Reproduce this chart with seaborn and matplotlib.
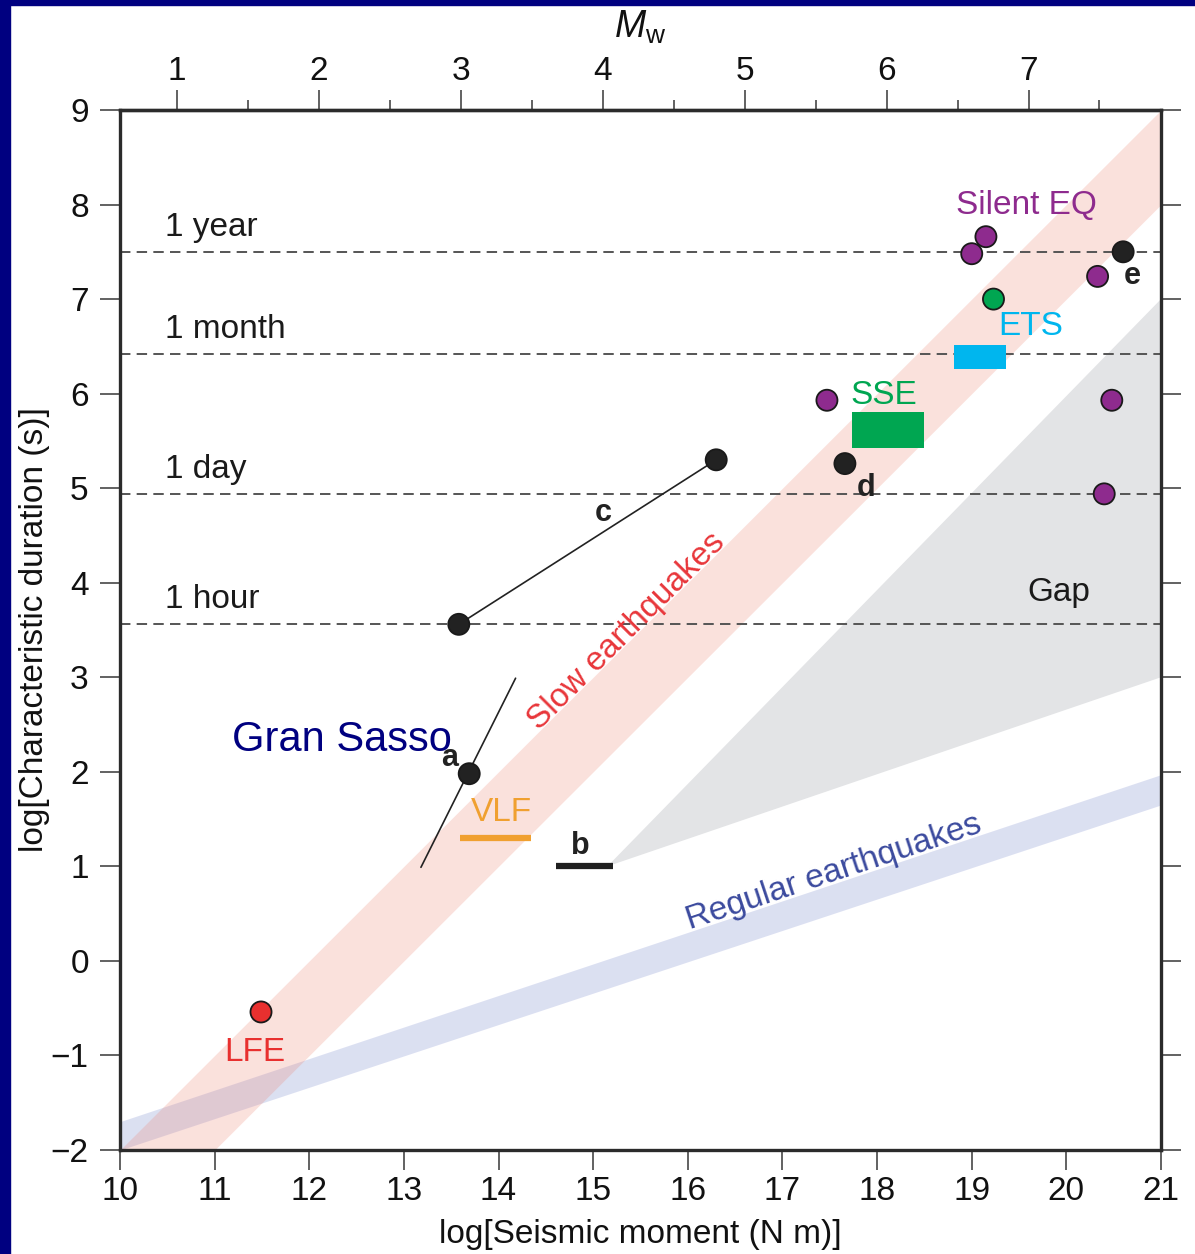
import numpy as np
import pandas as pd
import matplotlib
matplotlib.use("Agg")
import matplotlib.pyplot as plt
from matplotlib.patches import Rectangle
import seaborn as sns

# ---- data -------------------------------------------------------------
# scaling-law bands (log seismic moment -> log duration), given by their end points
band_x = [10, 21]
slow_upper = [-2.0, 9.0]
slow_lower = [-3.0, 8.0]
regular_upper = [-1.7, 1.97]
regular_lower = [-2.0, 1.65]

# gap region between the two scaling laws
gap_x = [15.15, 21.0, 21.0]
gap_y = [1.0, 7.0, 3.0]

# reference durations (log seconds)
duration_names = ["1 year", "1 month", "1 day", "1 hour"]
duration_logs = [7.50, 6.42, 4.94, 3.56]

# individual events
event_kind = ["LFE", "a", "c", "c", "d", "e",
              "Silent", "Silent", "Silent", "Silent", "Silent", "Silent",
              "SSE_pt"]
event_m0 = [11.49, 13.69, 13.58, 16.30, 17.66, 20.60,
            19.00, 19.15, 20.33, 17.47, 20.48, 20.40,
            19.23]
event_dur = [-0.54, 1.98, 3.56, 5.30, 5.26, 7.50,
             7.48, 7.66, 7.24, 5.93, 5.93, 4.94,
             7.00]

# scaling trends of individual sequences
trend_a_m0 = [13.18, 14.18]
trend_a_dur = [0.99, 2.99]
trend_c_m0 = [13.58, 16.30]
trend_c_dur = [3.56, 5.30]

# range bars
vlf_m0 = [13.59, 14.34]
vlf_dur = [1.30, 1.30]
b_m0 = [14.61, 15.21]
b_dur = [1.00, 1.00]

# boxes (m0 min, m0 max, dur min, dur max)
sse_box = [17.74, 18.50, 5.43, 5.81]
ets_box = [18.81, 19.36, 6.26, 6.51]

# top axis: moment magnitude
mw_major = [1, 2, 3, 4, 5, 6, 7]
mw_minor = [1.5, 2.5, 3.5, 4.5, 5.5, 6.5, 7.5]

x_ticks = list(range(10, 22))
y_ticks = list(range(-2, 10))

# ---- style ------------------------------------------------------------
sns.set_theme(style="ticks")
plt.rcParams["font.family"] = ["Liberation Sans", "DejaVu Sans"]
plt.rcParams["mathtext.fontset"] = "custom"
plt.rcParams["mathtext.it"] = "Liberation Sans:italic"
plt.rcParams["mathtext.rm"] = "Liberation Sans"
plt.rcParams["lines.scale_dashes"] = False

FS = 24
SPINE = "#2b2b2b"
TICKC = "#555555"
TXT = "#111111"

fig = plt.figure(figsize=(11.95, 12.54), dpi=100)
ax = fig.add_axes([120 / 1195, 1 - 1150 / 1254, (1161 - 120) / 1195, (1150 - 110) / 1254])

# bands
ax.fill_between(band_x, regular_lower, regular_upper, color="#8090D0", alpha=0.28,
                linewidth=0, zorder=1)
ax.fill_between(band_x, slow_lower, slow_upper, color="#EE8877", alpha=0.25,
                linewidth=0, zorder=1)
ax.fill(gap_x, gap_y, color="#E3E4E6", linewidth=0, zorder=0.9)

# duration reference lines
for name, val in zip(duration_names, duration_logs):
    ax.axhline(val, color="#555555", lw=1.4, dashes=(7.5, 4.5), zorder=2)
    ax.text(10.48, val + 0.17, name, fontsize=FS, color="#1a1a1a",
            ha="left", va="baseline", zorder=3)

# sequence trends
sns.lineplot(x=trend_a_m0, y=trend_a_dur, color="#222222", lw=1.2, ax=ax,
             estimator=None, sort=False, zorder=3)
sns.lineplot(x=trend_c_m0, y=trend_c_dur, color="#222222", lw=1.2, ax=ax,
             estimator=None, sort=False, zorder=3)

# range bars
sns.lineplot(x=vlf_m0, y=vlf_dur, color="#F0A030", lw=4.5, ax=ax,
             estimator=None, zorder=3, solid_capstyle="butt")
sns.lineplot(x=b_m0, y=b_dur, color="#1f1f1f", lw=4.5, ax=ax,
             estimator=None, zorder=3, solid_capstyle="butt")

# boxes
ax.fill_between([sse_box[0], sse_box[1]], sse_box[2], sse_box[3],
                color="#00A651", linewidth=0, zorder=4)
ax.fill_between([ets_box[0], ets_box[1]], ets_box[2], ets_box[3],
                color="#00B6EE", linewidth=0, zorder=4)

# events
events = pd.DataFrame({"m0": event_m0, "dur": event_dur, "kind": event_kind})
palette = {"LFE": "#E8302F", "a": "#222222", "c": "#222222", "d": "#222222",
           "e": "#222222", "Silent": "#8E2B8E", "SSE_pt": "#00A651"}
sns.scatterplot(data=events, x="m0", y="dur", hue="kind", palette=palette,
                s=230, edgecolor="#1a1a1a", linewidth=1.3, legend=False,
                ax=ax, zorder=5)

# labels
ax.text(19.58, 7.99, "Silent EQ", color="#8E2B8E", fontsize=FS, ha="center", va="center")
ax.text(19.62, 6.71, "ETS", color="#00B6EE", fontsize=FS, ha="center", va="center")
ax.text(18.07, 5.98, "SSE", color="#00A651", fontsize=FS, ha="center", va="center")
ax.text(14.03, 1.57, "VLF", color="#F0A030", fontsize=FS, ha="center", va="center")
ax.text(11.42, -0.97, "LFE", color="#E8302F", fontsize=FS, ha="center", va="center")
ax.text(19.92, 3.90, "Gap", color="#1a1a1a", fontsize=FS, ha="center", va="center")
ax.text(15.35, 3.48, "Slow earthquakes", color="#E8363A", fontsize=FS,
        rotation=45, ha="center", va="center", rotation_mode="anchor")
ax.text(17.54, 0.94, "Regular earthquakes", color="#3B4A9E", fontsize=FS,
        rotation=18.4, ha="center", va="center", rotation_mode="anchor")
ax.text(12.34, 2.34, "Gran Sasso", color="#000080", fontsize=30,
        ha="center", va="center", zorder=6)
for lab, lx, ly in [("a", 13.48, 2.15), ("b", 14.86, 1.22), ("c", 15.11, 4.74),
                    ("d", 17.88, 5.00), ("e", 20.70, 7.24)]:
    ax.text(lx, ly, lab, fontsize=22, fontweight="bold", color="#222222",
            ha="center", va="center", zorder=6)

# axes
ax.set_xlim(10, 21)
ax.set_ylim(-2, 9)
ax.set_xticks(x_ticks)
ax.set_yticks(y_ticks)
ax.set_yticklabels([str(v).replace("-", "\u2212") for v in y_ticks])
ax.tick_params(axis="both", direction="out", length=14.5, width=1.3, color=TICKC,
               labelsize=FS, labelcolor=TXT)
ax.tick_params(axis="x", pad=4)
ax.tick_params(axis="y", pad=8, right=True, labelright=False)
for sp in ax.spines.values():
    sp.set_visible(True)
    sp.set_linewidth(2.4)
    sp.set_color(SPINE)

ax.set_xlabel("log[Seismic moment (N m)]", fontsize=FS, color=TXT, va="center")
ax.xaxis.set_label_coords(0.5, -(1235 - 1150) / 1040)
ax.set_ylabel("log[Characteristic duration (s)]", fontsize=FS, color=TXT, va="center")
ax.yaxis.set_label_coords(-(120 - 35) / 1041, 0.5)

top = ax.secondary_xaxis("top", functions=(lambda m: (m - 9.1) * 2 / 3,
                                           lambda w: 1.5 * w + 9.1))
top.set_xticks(mw_major)
top.set_xticks(mw_minor, minor=True)
top.tick_params(axis="x", which="major", direction="out", length=14.5, width=1.3,
                color=TICKC, labelsize=FS, pad=2, labelcolor=TXT)
top.tick_params(axis="x", which="minor", direction="out", length=7.2, width=1.3,
                color=TICKC)
top.spines["top"].set_linewidth(2.4)
top.spines["top"].set_color(SPINE)
fig.text(640 / 1195, 1 - 27 / 1254, r"$M_\mathregular{w}$", fontsize=27, color=TXT,
         ha="center", va="center")

# navy frame strips on top and left edges
fig.add_artist(Rectangle((0, 1 - 5 / 1254), 1, 5 / 1254, transform=fig.transFigure,
                         color="#000080", zorder=10))
fig.add_artist(Rectangle((0, 0), 10 / 1195, 1, transform=fig.transFigure,
                         color="#000080", zorder=10))

fig.savefig("out.png", dpi=100, facecolor="white")
